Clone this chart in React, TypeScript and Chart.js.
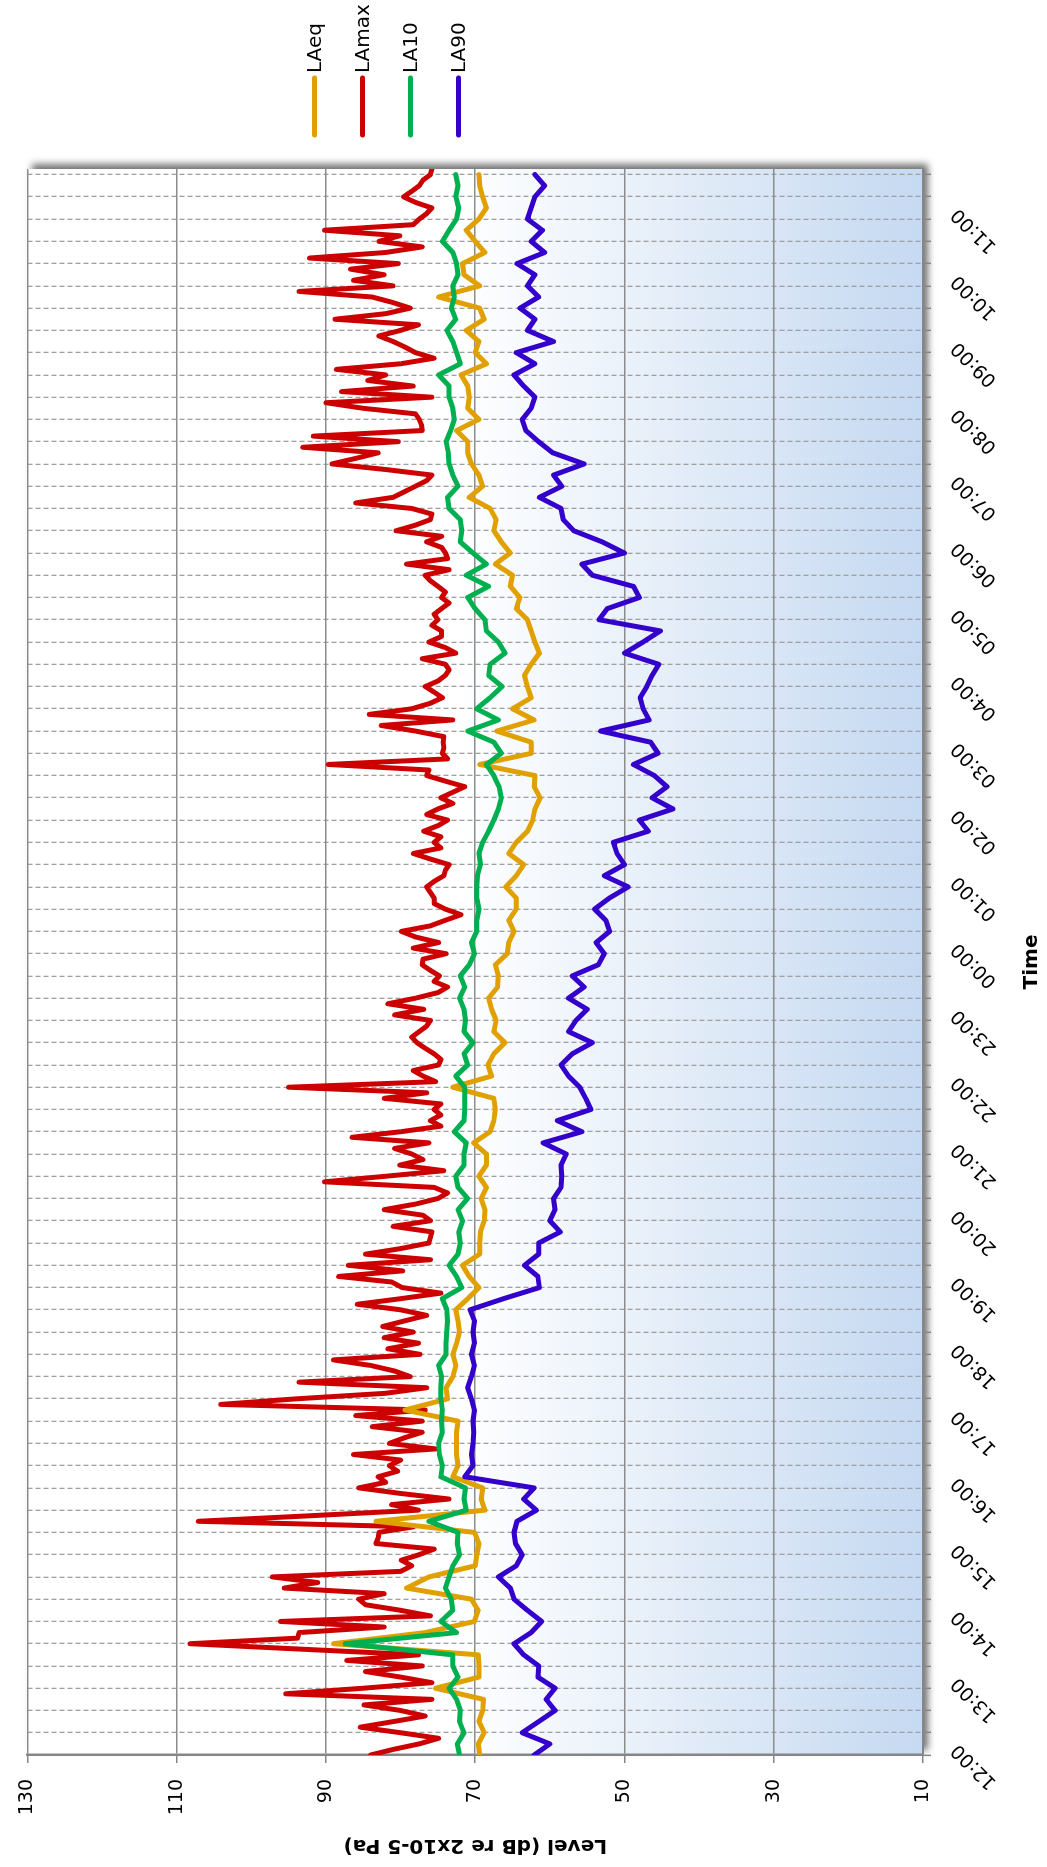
import React, { useEffect, useRef } from 'react';
import { Chart, registerables } from 'chart.js';

Chart.register(...registerables);

const CANVAS_W = 1867;
const CANVAS_H = 1047;

// Hourly tick labels (x axis starts at 12:00)
const hourLabels = ['12:00', '13:00', '14:00', '15:00', '16:00', '17:00', '18:00', '19:00', '20:00', '21:00', '22:00', '23:00',
  '00:00', '01:00', '02:00', '03:00', '04:00', '05:00', '06:00', '07:00', '08:00', '09:00', '10:00', '11:00'];

const seriesNames = ['LAeq', 'LAmax', 'LA10', 'LA90'];
const seriesColors = ['#E0A000', '#CC0000', '#00B050', '#3300CC'];

const levelMin = 10;
const levelMax = 130;
const levelStep = 20;
const timeEndMin = 1425; // minutes after 12:00 (11:45)
const gridStepMin = 20;
const stepLAmax = 5; // minutes between LAmax samples
const stepOther = 10; // minutes between LAeq / LA10 / LA90 samples

// LAmax, 5-minute samples from 12:00
const LAmax = [
  84.0, 81, 77.5, 74.9, 80, 85.4, 81, 76.7, 80, 84.9, 75.8, 95.4, 85, 75.8, 80, 84.7, 77.1, 87.2, 77.6, 93, 108.2, 93.8, 93.6, 82.2, 96.1,
  76.0, 80, 84.7, 85.6, 82.2, 95.6, 91.1, 97.2, 80, 78.5, 79.9, 77.5, 75.5, 83.3, 83, 82.9, 78.3, 107.1, 92, 77.6, 81.2, 73.5, 80, 85.6,
  82, 83, 80.4, 81.5, 80, 86.3, 75.3, 81.5, 79.5, 77.1, 83.8, 77.1, 86, 76.7, 104.1, 94, 82, 76.5, 93.6, 78.7, 80.8, 84, 89, 77.4, 81.7,
  77.6, 82.2, 78.3, 82.4, 79.5, 76.5, 80, 85.8, 80, 74.6, 79.8, 81.2, 88.3, 79.7, 87, 76, 84.7, 80, 76.2, 76, 75.8, 81, 76, 77, 82.2,
  78, 75, 73.7, 75.5, 90.2, 82, 74.2, 80.1, 77, 78.5, 80.8, 76.2, 86.5, 80, 74.6, 76, 74.6, 75.5, 74.6, 82.2, 76.5, 95, 75.3, 77, 78.3,
  74.9, 74.6, 75.5, 76.7, 77.8, 78.5, 77.5, 76.5, 76, 80.8, 76.9, 81.7, 78, 75, 73.7, 75.5, 74.8, 76, 77.1, 77, 73.9, 78.3, 74.9,
  78, 79.9, 76, 74, 71.9, 74, 75.5, 75.5, 76, 76.5, 75.5, 74.2, 74, 73.5, 76, 78.3, 74.6, 75.5, 74.6, 76.9, 75, 73.7, 76.5, 75, 73,
  74.6, 73, 71.4, 74, 76.5, 76.2, 89.7, 73.7, 74.4, 74.2, 74.3, 74.2, 78, 82.6, 73, 84.2, 78.5, 76, 74.4, 75.5, 76.7, 75, 74, 73.5,
  74, 77.1, 72.6, 74, 76.2, 74.5, 74.5, 75.8, 75, 75.5, 74.5, 73.5, 74.5, 74, 75, 76, 76.7, 73.5, 79.2, 73.7, 74, 74.5, 76.5, 74.5,
  80.6, 78, 76, 75.8, 78.5, 86, 81, 79.5, 78, 76.5, 75.8, 82, 89.2, 86, 83, 93.1, 80.3, 91.7, 77.1, 77.2, 77.5, 78, 85, 90,
  75.8, 87.9, 78.3, 84.4, 82, 88.6, 80, 75.5, 78, 79.4, 81, 82.9, 80, 77.6, 88.8, 82, 78.7, 81, 83.8, 93.6, 81, 86.3, 82.2, 86.7,
  80.3, 92.2, 82, 77.1, 82.9, 80.1, 90.2, 78.3, 77.5, 76.5, 75.8, 78, 79.6, 78.5, 77.5, 77, 76, 75.8,
];

// LAeq, 10-minute samples from 12:00
const LAeq = [
  69.4, 69.6, 68.8, 69.5, 69, 68.9, 75.3, 69.5, 69.5, 69.6, 89, 76.7, 70.1, 69.6, 70.5, 79.2, 76.2, 70, 69.8, 69.5, 70.1, 83.3, 68.7, 69.2, 69,
  73, 72.3, 72.5, 72.5, 72.5, 72.3, 79.4, 73.7, 73.9, 73, 72.6, 73, 72.5, 72.1, 72.3, 72.6, 71, 69.5, 70.8, 71.7, 69.4, 69.4, 69.3, 68.8,
  68.7, 69.2, 68.5, 69.5, 68.5, 68.5, 70.2, 68, 67.5, 67.3, 67.5, 73, 67.8, 68.3, 67.5, 66, 67.5, 67.2, 67.8, 68.2, 67, 66.9, 67.3, 65.7, 65.5,
  64.8, 65.5, 64.5, 64.5, 65.9, 64.5, 63.5, 65.5, 64.5, 63, 62.3, 62, 61.3, 62.1, 62, 69.4, 62.5, 62.5, 67.1, 62.1, 65, 62.5, 63, 63.4,
  62.5, 61.4, 62, 62.5, 63, 64.5, 64, 65.3, 65, 67.3, 65.3, 66.5, 67.5, 67.2, 68, 70.8, 69, 69.5, 70.5, 71, 71, 72.5, 69.5, 71,
  70.8, 71, 71.9, 68.5, 70, 69.5, 71.2, 68.8, 69.4, 74.9, 69.4, 71.5, 71.7, 68.7, 70, 71.2, 69.5, 68.5, 69, 69.4, 69.5,
];

// LA10, 10-minute samples from 12:00
const LA10 = [
  72.1, 72.4, 71.5, 72.1, 72, 72.5, 73.5, 72.3, 73, 73, 87.4, 72.5, 74.6, 73, 73.2, 74, 73.5, 73, 72.1, 72.4, 72.3, 76.2, 71.2, 71.5, 71.3,
  74.6, 74.4, 74.8, 74.9, 74.4, 74.5, 74.4, 74.6, 74.6, 74.5, 74.9, 73.9, 73.9, 73.8, 73.7, 73.8, 74.4, 71.8, 72.5, 73.5, 72.3, 72, 72.2, 71.7,
  72.3, 71, 72.3, 72.6, 71.5, 71.5, 71.2, 72.8, 71.5, 71.4, 71.4, 71.4, 72.6, 71, 71.5, 70.3, 71.5, 71.3, 71.5, 72.1, 71.4, 72, 70.8, 70.1, 70.5,
  69.8, 69.8, 69.5, 69.8, 69.8, 69.7, 69.3, 69.5, 69, 68.2, 67.5, 66.9, 66.5, 66.8, 67.5, 68.5, 66.5, 67.5, 71, 66.9, 69.8, 68, 66.4, 68.2,
  68, 66, 66.9, 68.5, 68.7, 70, 71, 68.2, 71.2, 68.5, 70.3, 72, 71.8, 72, 73.5, 73.7, 72.3, 73, 73.5, 73.6, 73.9, 73.3, 72.8, 73,
  73.5, 73.5, 74.9, 72, 72.5, 73, 73.8, 72.6, 73.2, 72.8, 73, 72.3, 72.5, 73, 74.4, 73.5, 72.5, 72.2, 72.6, 72.3, 72.6,
];

// LA90, 10-minute samples from 12:00
const LA90 = [
  62.1, 60, 63.7, 61.5, 59.3, 60.5, 59.3, 61.6, 61.5, 63.5, 64.8, 62.5, 61.1, 63, 64.8, 65.3, 66.9, 64.5, 63.7, 64.6, 64.8, 64.4, 61.8, 63.5, 62.1,
  71.4, 70.3, 70.5, 70.3, 70.2, 70.3, 70.1, 70.5, 71, 70.5, 70.1, 70.5, 70.1, 70.3, 70.1, 70.7, 66.2, 61.4, 61.6, 63.4, 61.5, 61.5, 58.6, 60,
  59.3, 59.5, 58.5, 58.4, 58.5, 57.8, 60.9, 55.7, 59, 54.5, 55.2, 56, 57.5, 58.5, 57, 54.3, 57.5, 56.5, 55, 57.5, 55.4, 57, 53.5, 52.7, 53.8,
  52, 52.5, 54, 52, 49.5, 52.7, 50, 51, 51.5, 46.8, 48, 43.5, 46.3, 44.3, 46, 48.8, 45.5, 46.5, 53.2, 46.7, 47.5, 47.9, 47, 46.3,
  45.4, 50, 47.5, 45.2, 53.4, 52.3, 48, 48.8, 54.3, 55.7, 50, 53, 56.8, 58.2, 58.5, 61.4, 58.4, 59.5, 55.4, 59.6, 61.5, 63.2, 63.7, 62.5,
  62, 63.5, 64.8, 62, 64.5, 59.5, 63, 62, 64, 61.5, 63, 62, 64.4, 60.7, 62.5, 61, 63, 62.5, 62, 60.7, 62,
];

const FONT = 'DejaVu Sans';

export default function App() {
  const ref = useRef<HTMLCanvasElement>(null);

  useEffect(() => {
    const canvas = ref.current;
    if (!canvas) return;

    const toXY = (arr: number[], step: number) => arr.map((v, i) => ({ x: i * step, y: v }));

    const bgPlugin = {
      id: 'plotBg',
      beforeDraw(chart: any) {
        const { ctx, chartArea } = chart;
        const { left, top, right, bottom } = chartArea;
        ctx.save();
        ctx.shadowColor = 'rgba(0,0,0,0.55)';
        ctx.shadowBlur = 7;
        ctx.shadowOffsetX = 5;
        ctx.shadowOffsetY = 5;
        ctx.fillStyle = '#ffffff';
        ctx.fillRect(left, top, right - left, bottom - top);
        ctx.restore();
        const g = ctx.createLinearGradient(0, top, 0, bottom);
        g.addColorStop(0, '#ffffff');
        g.addColorStop(0.48, '#ffffff');
        g.addColorStop(1, '#c5d9f1');
        ctx.save();
        ctx.fillStyle = g;
        ctx.fillRect(left, top, right - left, bottom - top);
        ctx.restore();
      },
    };

    const legendPlugin = {
      id: 'sideLegend',
      afterDraw(chart: any) {
        const { ctx, chartArea } = chart;
        ctx.save();
        seriesNames.forEach((name, i) => {
          const y = chartArea.top + 287 + 48 * i;
          const x0 = chartArea.right + 34;
          const x1 = chartArea.right + 91;
          ctx.strokeStyle = seriesColors[i];
          ctx.lineWidth = 5;
          ctx.lineCap = 'round';
          ctx.beginPath();
          ctx.moveTo(x0, y);
          ctx.lineTo(x1, y);
          ctx.stroke();
          ctx.fillStyle = '#000';
          ctx.font = `20px "${FONT}"`;
          ctx.textAlign = 'left';
          ctx.textBaseline = 'middle';
          ctx.fillText(name, x1 + 5, y + 1);
        });
        ctx.restore();
      },
    };

    const chart = new Chart(canvas, {
      type: 'line',
      data: {
        datasets: [
          { label: seriesNames[3], data: toXY(LA90, stepOther), borderColor: seriesColors[3], order: 0 },
          { label: seriesNames[2], data: toXY(LA10, stepOther), borderColor: seriesColors[2], order: 1 },
          { label: seriesNames[0], data: toXY(LAeq, stepOther), borderColor: seriesColors[0], order: 2 },
          { label: seriesNames[1], data: toXY(LAmax, stepLAmax), borderColor: seriesColors[1], order: 3 },
        ],
      },
      options: {
        responsive: false,
        animation: false,
        devicePixelRatio: 1,
        events: [],
        layout: { padding: { left: 0, top: 20, right: 169, bottom: 0 } },
        elements: {
          line: { borderWidth: 5, tension: 0, borderJoinStyle: 'round', borderCapStyle: 'round', fill: false },
          point: { radius: 0, hoverRadius: 0 },
        },
        plugins: { legend: { display: false }, tooltip: { enabled: false } },
        scales: {
          x: {
            type: 'linear',
            min: 0,
            max: timeEndMin,
            afterFit: (s: any) => { s.height = 124; },
            ticks: {
              stepSize: gridStepMin,
              autoSkip: false,
              includeBounds: false,
              maxRotation: 45,
              minRotation: 45,
              padding: 16,
              labelOffset: 8,
              color: '#000',
              font: { family: FONT, size: 19 },
              callback: (v: any) => {
                const m = Math.round(Number(v));
                return m % 60 === 0 ? (hourLabels[m / 60] ?? '') : '';
              },
            },
            grid: { color: '#a0a0a0', lineWidth: 1.3, tickLength: 8, tickColor: '#868686', tickWidth: 1.5 },
            border: { display: true, color: '#868686', width: 2, dash: [5, 3] },
            title: {
              display: true, text: 'Time', color: '#000',
              font: { family: FONT, size: 20, weight: 'bold' },
              padding: { top: 0, bottom: 3 },
            },
          },
          y: {
            min: levelMin,
            max: levelMax,
            afterFit: (s: any) => { s.width = 112; },
            ticks: { stepSize: levelStep, padding: 16, color: '#000', font: { family: FONT, size: 19 } },
            grid: { color: '#8c8c8c', lineWidth: 1.5, tickLength: 8, tickColor: '#868686', tickWidth: 1.5 },
            border: { display: true, color: '#868686', width: 2.5 },
            title: {
              display: true, text: 'Level (dB re 2x10-5 Pa)', color: '#000',
              font: { family: FONT, size: 20, weight: 'bold' },
              padding: { top: 10, bottom: 0 },
            },
          },
        },
      } as any,
      plugins: [bgPlugin, legendPlugin],
    });

    return () => chart.destroy();
  }, []);

  return (
    <div style={{ position: 'absolute', left: 0, top: 0, width: 1047, height: 1867, overflow: 'hidden', background: '#fff' }}>
      <div
        style={{
          position: 'absolute', left: 0, top: 0, width: CANVAS_W, height: CANVAS_H,
          transformOrigin: '0 0', transform: `translateY(${CANVAS_W}px) rotate(-90deg)`,
        }}
      >
        <canvas ref={ref} width={CANVAS_W} height={CANVAS_H} style={{ display: 'block', width: CANVAS_W, height: CANVAS_H }} />
      </div>
    </div>
  );
}
